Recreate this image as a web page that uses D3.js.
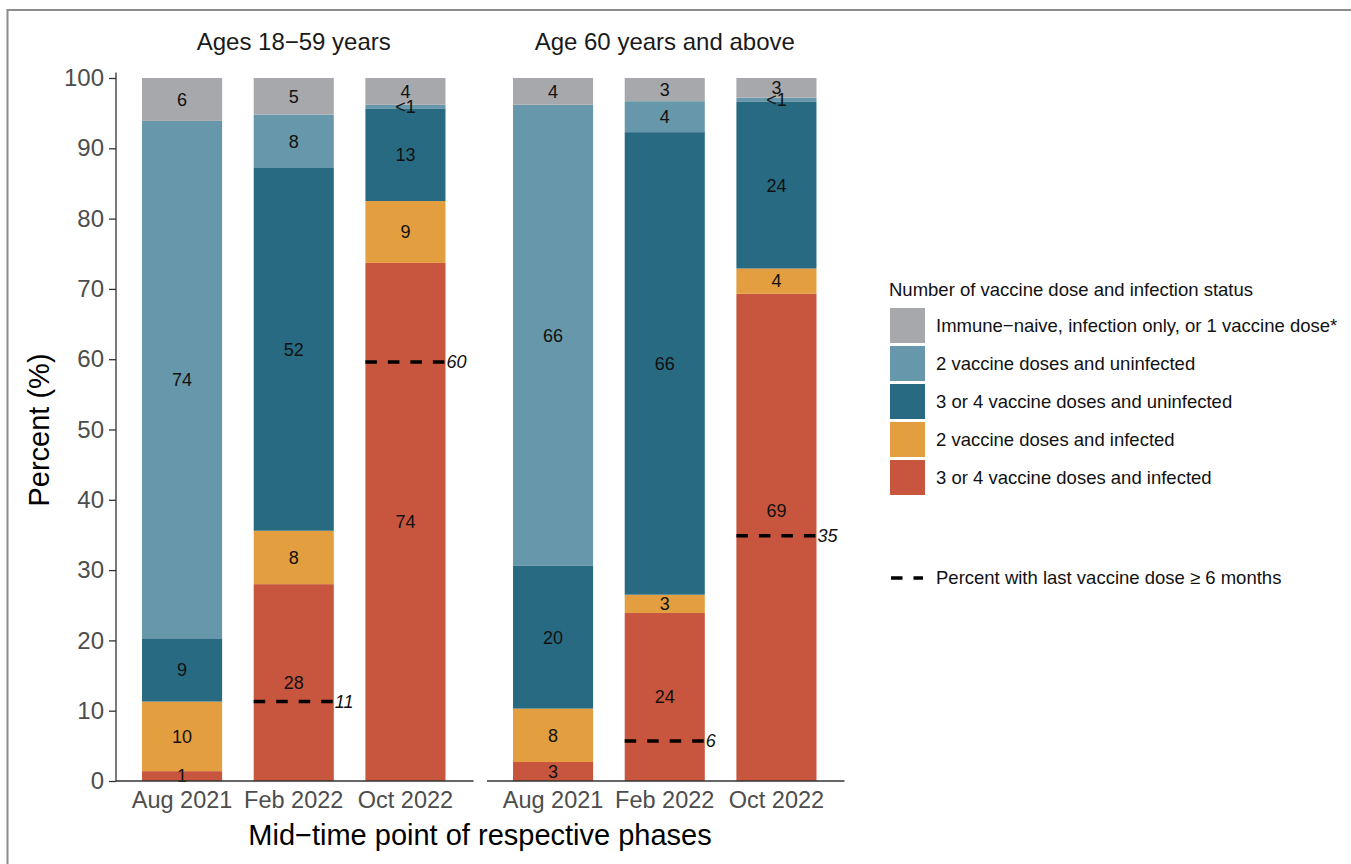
<!DOCTYPE html>
<html>
<head>
<meta charset="utf-8">
<script src="https://cdn.jsdelivr.net/npm/d3@7"></script>
<style>
  html, body { margin: 0; padding: 0; background: #fff; }
  svg { display: block; font-family: "Liberation Sans", Arial, Helvetica, sans-serif; }
</style>
</head>
<body>
<svg id="chart" width="1351" height="864"></svg>
<script>
// Phases (x categories) and the two age-group panels
const categories = ["Aug 2021", "Feb 2022", "Oct 2022"];
const panelTitles = ["Ages 18\u221259 years", "Age 60 years and above"];

// Percent of population per status, [panel][phase]
const vacc34Infected   = [[1.4, 28.0, 73.7], [2.7, 23.9, 69.3]];
const vacc2Infected    = [[9.9, 7.6, 8.8],   [7.6, 2.6, 3.6]];
const vacc34Uninfected = [[9.0, 51.6, 13.1], [20.3, 65.8, 23.7]];
const vacc2Uninfected  = [[73.6, 7.6, 0.6],  [65.6, 4.4, 0.6]];
const naiveOrOneDose   = [[6.1, 5.2, 3.8],   [3.8, 3.3, 2.8]];

// Percent with last vaccine dose >= 6 months (null = not shown)
const lastDose6mo = [[null, 11.3, 59.6], [null, 5.7, 34.9]];

// Legend order (top to bottom)
const statusLabels = [
  "Immune\u2212naive, infection only, or 1 vaccine dose*",
  "2 vaccine doses and uninfected",
  "3 or 4 vaccine doses and uninfected",
  "2 vaccine doses and infected",
  "3 or 4 vaccine doses and infected"
];
const statusColors = ["#a7a8ac", "#6797aa", "#286a81", "#e39e3f", "#c8553d"];
const legendTitle = "Number of vaccine dose and infection status";
const dashLegendLabel = "Percent with last vaccine dose \u2265 6 months";
const yTicks = [0, 10, 20, 30, 40, 50, 60, 70, 80, 90, 100];
const xTitle = "Mid\u2212time point of respective phases";
const yTitle = "Percent (%)";

// Stack order, bottom to top
const stackSeries = [vacc34Infected, vacc2Infected, vacc34Uninfected, vacc2Uninfected, naiveOrOneDose];
const stackColors = [statusColors[4], statusColors[3], statusColors[2], statusColors[1], statusColors[0]];

const svg = d3.select("#chart");

// outer frame
svg.append("line").attr("x1", 7).attr("x2", 1351).attr("y1", 10).attr("y2", 10)
  .attr("stroke", "#8c8c8c").attr("stroke-width", 2);
svg.append("line").attr("x1", 7.5).attr("x2", 7.5).attr("y1", 9).attr("y2", 864)
  .attr("stroke", "#8c8c8c").attr("stroke-width", 2);

const y = d3.scaleLinear().domain([0, 100]).range([781, 78]);
const panelRanges = [[116, 471.5], [487, 842.5]];

const fmt = v => v < 1 ? "<1" : String(Math.round(v));

panelRanges.forEach((range, p) => {
  const x = d3.scaleBand().domain(categories).range(range)
    .paddingInner(0.283).paddingOuter(0.233);

  const rows = categories.map((c, i) => {
    const row = { cat: c, idx: i };
    stackSeries.forEach((s, k) => row["s" + k] = s[p][i]);
    return row;
  });
  const stack = d3.stack().keys(stackSeries.map((s, k) => "s" + k));
  const layers = stack(rows);

  // label position: segment middle, lifted above a dashed line that would cross it
  const labelPos = d => {
    const mid = (d[0] + d[1]) / 2;
    const dash = lastDose6mo[p][d.data.idx];
    if (dash != null && Math.abs(mid - dash) < 2) return dash + 3.6;
    return mid;
  };

  const g = svg.append("g");
  layers.forEach((layer, k) => {
    g.selectAll(null).data(layer).enter().append("rect")
      .attr("x", d => x(d.data.cat))
      .attr("width", x.bandwidth())
      .attr("y", d => y(d[1]))
      .attr("height", d => y(d[0]) - y(d[1]))
      .attr("fill", stackColors[k]);
  });
  layers.forEach((layer, k) => {
    g.selectAll(null).data(layer).enter().append("text")
      .attr("x", d => x(d.data.cat) + x.bandwidth() / 2)
      .attr("y", d => y(labelPos(d)))
      .attr("dy", "0.35em")
      .attr("text-anchor", "middle")
      .attr("font-size", 18)
      .attr("fill", "#111")
      .text(d => fmt(d[1] - d[0]));
  });

  // dashed reference lines
  const dashData = categories.map((c, i) => ({ cat: c, v: lastDose6mo[p][i] })).filter(d => d.v != null);
  g.selectAll(null).data(dashData).enter().append("line")
    .attr("x1", d => x(d.cat)).attr("x2", d => x(d.cat) + x.bandwidth())
    .attr("y1", d => y(d.v)).attr("y2", d => y(d.v))
    .attr("stroke", "#000").attr("stroke-width", 3.5)
    .attr("stroke-dasharray", "11.5,11");
  g.selectAll(null).data(dashData).enter().append("text")
    .attr("x", d => x(d.cat) + x.bandwidth() + 1)
    .attr("y", d => y(d.v))
    .attr("dy", "0.35em")
    .attr("font-size", 18).attr("font-style", "italic").attr("fill", "#111")
    .text(d => fmt(d.v));

  // x axis
  const xAxis = svg.append("g").attr("transform", "translate(0,781)")
    .call(d3.axisBottom(x).tickSize(0).tickPadding(10));
  xAxis.select(".domain").attr("stroke", "#333").attr("stroke-width", 1.3)
    .attr("d", `M${range[0]},0H${range[1] + 2}`);
  xAxis.selectAll("text").attr("font-size", 23.5).attr("fill", "#4d4d4d")
    .attr("font-family", "Liberation Sans, Arial, sans-serif");

  // panel title
  svg.append("text").attr("x", (range[0] + range[1]) / 2).attr("y", 50)
    .attr("text-anchor", "middle").attr("font-size", 24).attr("fill", "#1a1a1a")
    .text(panelTitles[p]);
});

// y axis on the left panel
const yAxis = svg.append("g").attr("transform", "translate(116,0)")
  .call(d3.axisLeft(y).tickValues(yTicks).tickSize(7).tickPadding(5));
yAxis.select(".domain").attr("stroke", "#333").attr("stroke-width", 1.3)
  .attr("d", `M0,${y(100.8)}V781`);
yAxis.selectAll(".tick line").attr("stroke", "#333").attr("stroke-width", 1.3);
yAxis.selectAll("text").attr("font-size", 24).attr("fill", "#4d4d4d")
  .attr("font-family", "Liberation Sans, Arial, sans-serif");

// axis titles
svg.append("text").attr("x", 480).attr("y", 845).attr("text-anchor", "middle")
  .attr("font-size", 29).attr("fill", "#000").text(xTitle);
svg.append("text").attr("transform", "translate(49,430) rotate(-90)")
  .attr("text-anchor", "middle").attr("font-size", 29).attr("fill", "#000").text(yTitle);

// legend
const lg = svg.append("g");
lg.append("text").attr("x", 889).attr("y", 296).attr("font-size", 18.5).attr("fill", "#111")
  .text(legendTitle);
statusLabels.forEach((lab, i) => {
  const top = 308 + i * 38;
  lg.append("rect").attr("x", 890).attr("y", top).attr("width", 35).attr("height", 35)
    .attr("fill", statusColors[i]);
  lg.append("text").attr("x", 936).attr("y", top + 17.5).attr("dy", "0.35em")
    .attr("font-size", 18.5).attr("fill", "#111").text(lab);
});
lg.append("line").attr("x1", 891).attr("x2", 923).attr("y1", 578).attr("y2", 578)
  .attr("stroke", "#000").attr("stroke-width", 3.5).attr("stroke-dasharray", "11.5,11");
lg.append("text").attr("x", 936).attr("y", 578).attr("dy", "0.35em")
  .attr("font-size", 18.5).attr("fill", "#111").text(dashLegendLabel);
</script>
</body>
</html>
